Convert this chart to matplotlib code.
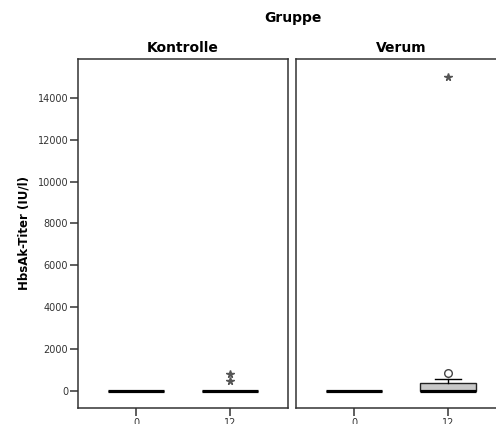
import matplotlib
matplotlib.use("Agg")
from matplotlib import pyplot as plt

plt.rcParams["font.family"] = ["DejaVu Sans"]

groups = ["Kontrolle", "Verum"]
months = ["0", "12"]

# box statistics per group, one entry per month: q1, median, q3, whisker low, whisker high
q1 = [[0, 0], [0, 0]]
med = [[0, 0], [0, 10]]
q3 = [[0, 0], [0, 370]]
whislo = [[0, 0], [0, 0]]
whishi = [[0, 0], [0, 560]]

# outliers (circle) and extreme values (star), per group and month
outliers = [[[], []], [[], [870]]]
extremes = [[[], [490, 800]], [[], [15000]]]

y_ticks = [0, 2000, 4000, 6000, 8000, 10000, 12000, 14000]

fig = plt.figure(figsize=(4.96, 4.24), dpi=100)
w = 210 / 496
h = 349 / 424
b = 16 / 424
axes = [fig.add_axes([78 / 496, b, w, h]), fig.add_axes([296 / 496, b, w, h])]

for g, ax in enumerate(axes):
    stats = []
    for m in range(len(months)):
        stats.append({
            "q1": q1[g][m], "med": med[g][m], "q3": q3[g][m],
            "whislo": whislo[g][m], "whishi": whishi[g][m], "fliers": [],
        })
    ax.bxp(stats, positions=range(len(months)), widths=0.6, showfliers=False,
           patch_artist=True,
           boxprops=dict(facecolor="#c8c8c8", edgecolor="#222222", linewidth=1.0),
           medianprops=dict(color="black", linewidth=2.3, solid_capstyle="butt"),
           whiskerprops=dict(color="black", linewidth=1.0),
           capprops=dict(color="black", linewidth=1.0),
           capwidths=0.28)
    for m in range(len(months)):
        if outliers[g][m]:
            ax.plot([m] * len(outliers[g][m]), outliers[g][m], "o", ms=5.5,
                    mfc="white", mec="#444444", mew=1.0, ls="none")
        if extremes[g][m]:
            ax.plot([m] * len(extremes[g][m]), extremes[g][m], "*", ms=5.5,
                    color="#555555", ls="none")

    ax.set_xlim(-0.62, 1.62)
    ax.set_ylim(-810, 15850)
    ax.set_xticks(range(len(months)))
    ax.set_xticklabels(months)
    ax.set_title(groups[g], fontsize=10, fontweight="bold", pad=5)
    for s in ax.spines.values():
        s.set_linewidth(1.1)
        s.set_color("#333333")
    ax.tick_params(axis="both", direction="out", length=6, width=1.1,
                   color="#333333", labelsize=7, labelcolor="#333333", pad=1)
    if g == 0:
        ax.set_yticks(y_ticks)
        ax.set_ylabel("HbsAk-Titer (IU/l)", fontsize=8.5, fontweight="bold", labelpad=5)
    else:
        ax.set_yticks([])

fig.text(293 / 496, 1 - 18 / 424, "Gruppe", ha="center", va="center",
         fontsize=10, fontweight="bold")

fig.savefig("out.png", dpi=100)
